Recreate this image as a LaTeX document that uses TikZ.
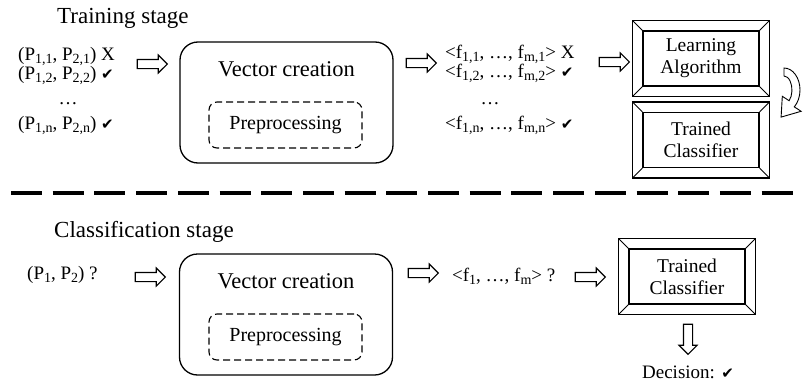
\documentclass[tikz,border=0pt]{standalone}
\usepackage{fontspec}
\setmainfont{Liberation Serif}
\newfontfamily\ckfont{DejaVu Sans}
\usetikzlibrary{shapes.arrows,calc}

\newcommand{\ok}{{\ckfont\fontsize{15}{15}\selectfont ✔}}
\newcommand{\sbs}[1]{\raisebox{-3.5pt}{\fontsize{14}{14}\selectfont #1}}
% outer frame and corner cuts round an inner box
\newcommand{\bevelframe}[1]{%
  \draw[line width=1.3pt] ($(#1.north west)+(-10,-10)$) rectangle ($(#1.south east)+(10,10)$);
  \draw[line width=0.9pt] (#1.north west) -- ++(-10,-10) (#1.north east) -- ++(10,-10)
    (#1.south west) -- ++(-10,10) (#1.south east) -- ++(10,10);
}

\begin{document}
\begin{tikzpicture}[x=1pt, y=-1pt,
    every node/.style={inner sep=0pt},
    stage/.style={font=\fontsize{23}{23}\selectfont, anchor=base west},
    item/.style={font=\fontsize{19}{19}\selectfont, anchor=base west},
    vtitle/.style={font=\fontsize{22.5}{22.5}\selectfont, anchor=base},
    vecbox/.style={draw, line width=1.3pt, rounded corners=18pt, minimum width=213pt, minimum height=121pt},
    prebox/.style={draw, line width=1.1pt, dash pattern=on 7pt off 4pt, rounded corners=8pt,
      minimum width=153pt, minimum height=46pt, font=\fontsize{20}{20}\selectfont},
    bevel/.style={draw, line width=1.2pt, minimum width=116pt, minimum height=55pt, align=center,
      font=\fontsize{19.5}{22}\selectfont},
    blockarr/.style={draw, line width=1.1pt, single arrow, inner xsep=0pt, inner ysep=4pt,
      minimum height=30pt, single arrow head extend=4.5pt, single arrow tip angle=90},
    sepline/.style={line width=4.5pt, dash pattern=on 31pt off 10.7pt},
  ]
  \useasboundingbox (0,0) rectangle (804,383);

  % training stage
  \node[stage] (train) at (57,23) {Training stage};
  \node[item] (pl1) at (18,60) {(P\sbs{1,1}, P\sbs{2,1}) X};
  \node[item] (pl2) at (18,79) {(P\sbs{1,2}, P\sbs{2,2}) \ok};
  \node[item, anchor=base] (pldots) at (68,104) {\dots};
  \node[item] (pl4) at (18,129) {(P\sbs{1,n}, P\sbs{2,n}) \ok};

  \node[blockarr] (a1) at (150,64) {};
  \node[vecbox] (vec1) at (286.5,102.5) {};
  \node[vtitle] (vt1) at (286.5,76) {Vector creation};
  \node[prebox] (pre1) at (285.5,125) {Preprocessing};
  \node[blockarr] (a2) at (419,63) {};

  \node[item] (fv1) at (445,58) {<f\sbs{1,1}, \dots, f\sbs{m,1}> X};
  \node[item] (fv2) at (445,77) {<f\sbs{1,2}, \dots, f\sbs{m,2}> \ok};
  \node[item, anchor=base] (fvdots) at (490,104) {\dots};
  \node[item] (fv4) at (445,129) {<f\sbs{1,n}, \dots, f\sbs{m,n}> \ok};
  \node[blockarr] (a3) at (612,62) {};

  \node[bevel] (learn) at (701,58.5) {Learning\\Algorithm};
  \bevelframe{learn}
  \node[bevel] (tc1) at (701,140) {Trained\\Classifier};
  \bevelframe{tc1}
  \draw[line width=0.9pt, fill=white] (784,68) arc[start angle=-90, end angle=50, x radius=16, y radius=22]
    -- (801.1,111.3) -- (781.1,117.1) -- (782.3,96.3) -- (789.1,100.7)
    arc[start angle=50, end angle=-90, x radius=8, y radius=14] -- cycle;

  \draw[sepline] (11,193) -- (794,193);

  % classification stage
  \node[stage] (classif) at (54,237) {Classification stage};
  \node[item] (pq) at (27,279) {(P\sbs{1}, P\sbs{2}) ?};
  \node[blockarr] (a4) at (148,277) {};
  \node[vecbox] (vec2) at (286,314.5) {};
  \node[vtitle] (vt2) at (286,288) {Vector creation};
  \node[prebox] (pre2) at (285.5,337) {Preprocessing};
  \node[blockarr] (a5) at (421,273) {};
  \node[item] (fq) at (452,281) {<f\sbs{1}, \dots, f\sbs{m}> ?};
  \node[blockarr] (a6) at (588,277) {};
  \node[bevel] (tc2) at (687,276.5) {Trained\\Classifier};
  \bevelframe{tc2}
  \node[blockarr, rotate=-90] (a7) at (688,337) {};
  \node[item, anchor=base] (dec) at (688,378) {Decision: \ok};
\end{tikzpicture}
\end{document}
